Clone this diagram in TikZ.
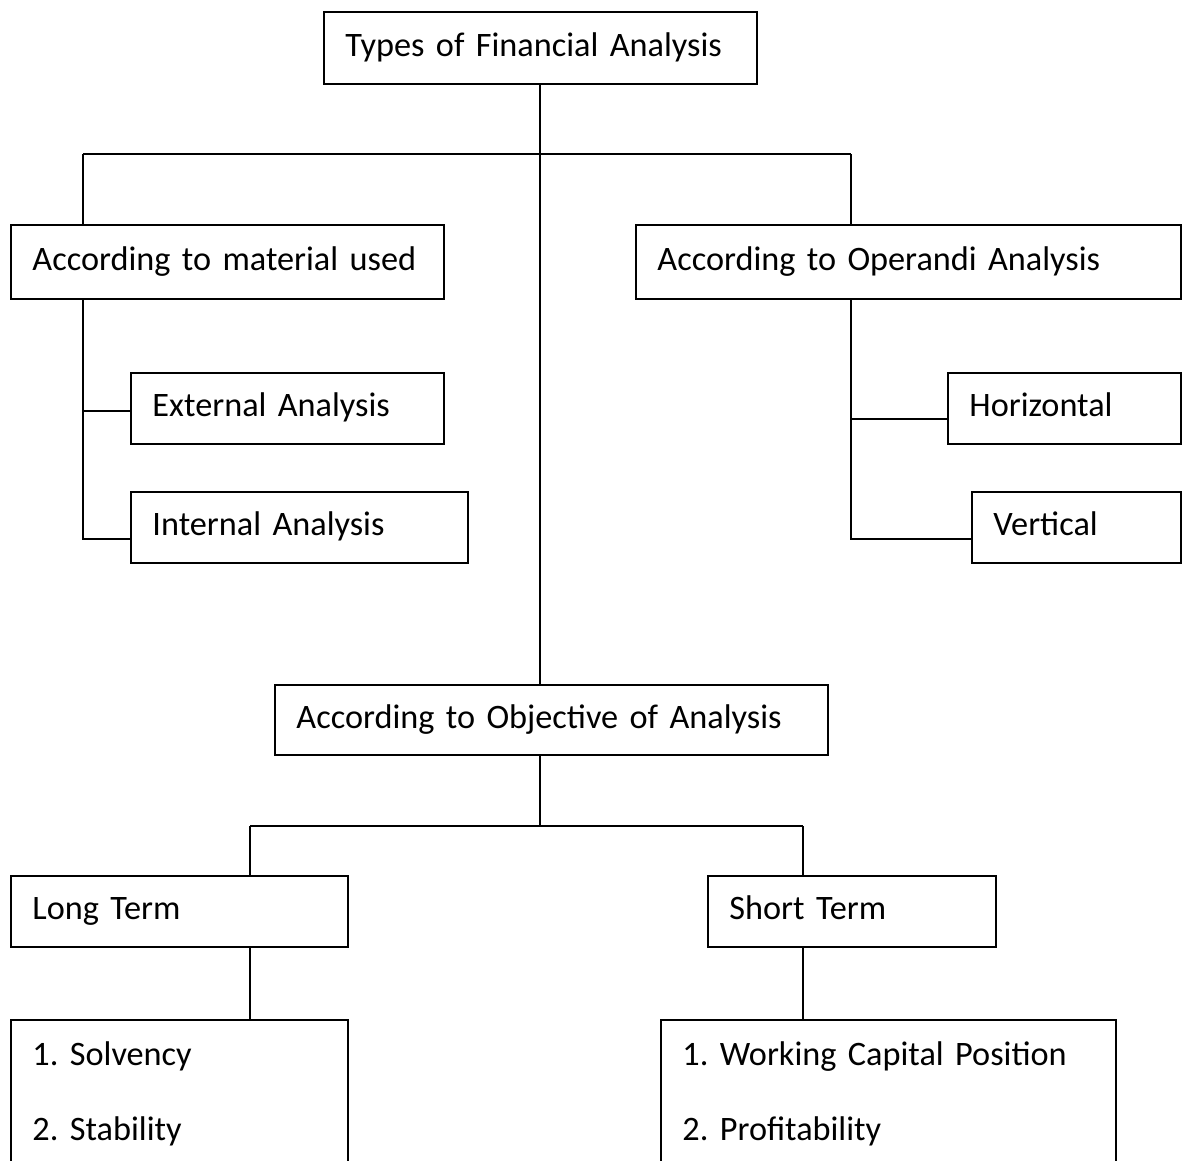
\documentclass[tikz,border=0pt]{standalone}
\usepackage{fontspec}
\setmainfont{Carlito}[WordSpace=0.7]
\tikzset{
  box/.style={draw, line width=1.1pt, anchor=north west, inner xsep=0.43cm, inner ysep=0pt,
    text height=14pt, text depth=4.5pt, font=\fontsize{19.5}{23.4}\selectfont\frenchspacing},
  listbox/.style={box, inner ysep=0.42cm, text depth=3cm},
  link/.style={line width=1.1pt}
}
\begin{document}
\begin{tikzpicture}[x=0.02cm,y=-0.02cm]
\useasboundingbox (0,0) rectangle (1195,1160);
\clip (0,0) rectangle (1195,1160);
% boxes
\node[box, text width=7.8cm, minimum height=1.44cm] (types) at (323,11) {Types of Financial Analysis};
\node[box, text width=7.8cm, minimum height=1.48cm] (material) at (10,224) {According to material used};
\node[box, text width=10.04cm, minimum height=1.48cm] (operandi) at (635,224) {According to Operandi Analysis};
\node[box, text width=5.4cm, minimum height=1.42cm] (external) at (130,372) {External Analysis};
\node[box, text width=5.88cm, minimum height=1.42cm] (internal) at (130,491) {Internal Analysis};
\node[box, text width=3.8cm, minimum height=1.42cm] (horizontal) at (947,372) {Horizontal};
\node[box, text width=3.32cm, minimum height=1.42cm] (vertical) at (971,491) {Vertical};
\node[box, text width=10.2cm, minimum height=1.4cm] (objective) at (274,684) {According to Objective of Analysis};
\node[box, text width=5.88cm, minimum height=1.42cm] (longterm) at (10,875) {Long Term};
\node[box, text width=4.9cm, minimum height=1.42cm] (shortterm) at (707,875) {Short Term};
\node[listbox, text width=5.88cm] (longlist) at (10,1019)
  {1. Solvency\\[19.3pt]2. Stability};
\node[listbox, text width=8.24cm] (shortlist) at (660,1019)
  {1. Working Capital Position\\[19.3pt]2. Profitability};
% connectors
\coordinate (lhub) at (83,154);
\coordinate (rhub) at (851,154);
\draw[link] (types.south) -- (types.south |- objective.north);
\draw[link] (lhub) -- (rhub);
\draw[link] (lhub) -- (lhub |- material.north);
\draw[link] (rhub) -- (rhub |- operandi.north);
\coordinate (mext) at (83,411);
\coordinate (mint) at (83,539);
\draw[link] (lhub |- material.south) -- (mint) -- (mint -| internal.west);
\draw[link] (mext) -- (mext -| external.west);
\coordinate (ohor) at (851,419);
\coordinate (over) at (851,539);
\draw[link] (rhub |- operandi.south) -- (over) -- (over -| vertical.west);
\draw[link] (ohor) -- (ohor -| horizontal.west);
\coordinate (obranch) at (540,826);
\coordinate (olong) at (250,826);
\coordinate (oshort) at (803,826);
\draw[link] (obranch |- objective.south) -- (obranch);
\draw[link] (olong) -- (oshort);
\draw[link] (olong) -- (olong |- longterm.north);
\draw[link] (oshort) -- (oshort |- shortterm.north);
\draw[link] (olong |- longterm.south) -- (olong |- longlist.north);
\draw[link] (oshort |- shortterm.south) -- (oshort |- shortlist.north);
\end{tikzpicture}
\end{document}
